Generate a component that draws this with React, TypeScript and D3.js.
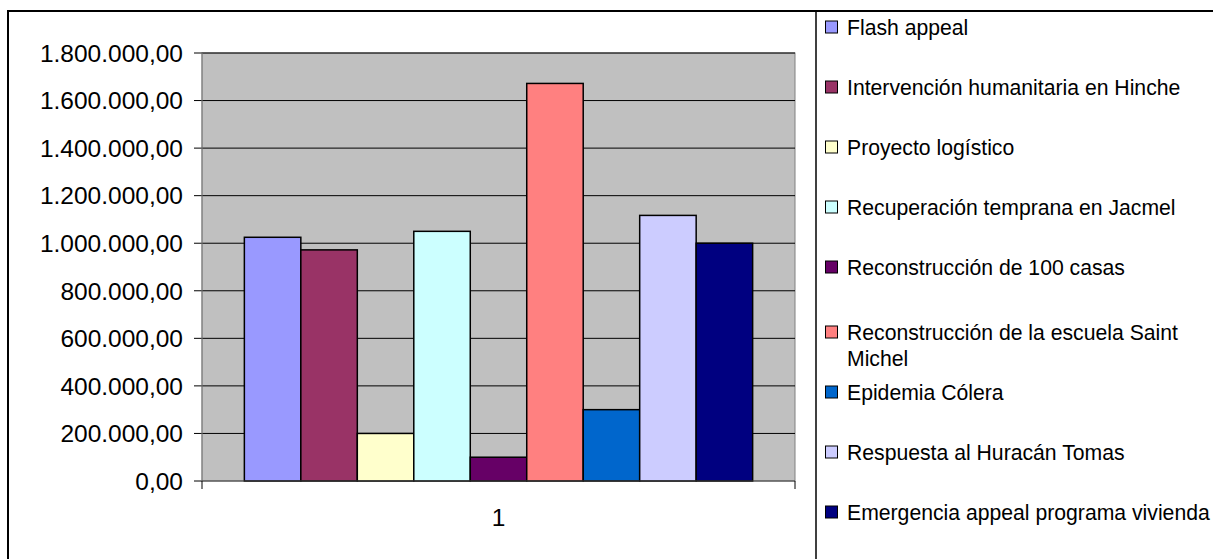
import React from 'react'
import * as d3 from 'd3'

const categories = ['1']
const seriesNames = [
  'Flash appeal',
  'Intervención humanitaria en Hinche',
  'Proyecto logístico',
  'Recuperación temprana en Jacmel',
  'Reconstrucción de 100 casas',
  'Reconstrucción de la escuela Saint Michel',
  'Epidemia Cólera',
  'Respuesta al Huracán Tomas',
  'Emergencia appeal programa vivienda',
]
const seriesValues = [1025000, 972000, 200000, 1050000, 100000, 1672000, 300000, 1117000, 1000000]
const seriesColors = ['#9999FF', '#993366', '#FFFFCC', '#CCFFFF', '#660066', '#FF8080', '#0066CC', '#CCCCFF', '#000080']
const yTicks = [0, 200000, 400000, 600000, 800000, 1000000, 1200000, 1400000, 1600000, 1800000]

// legend labels that wrap onto two lines
const legendLines: Record<string, string[]> = {
  'Reconstrucción de la escuela Saint Michel': ['Reconstrucción de la escuela Saint', 'Michel'],
}

const W = 1213
const H = 559
const plot = { left: 202, right: 795, top: 53, bottom: 481 }
const font = '"Liberation Sans", Arial, sans-serif'

const esLocale = d3.formatLocale({ decimal: ',', thousands: '.', grouping: [3], currency: ['', ''] })
const fmt = esLocale.format(',.2f')

export default function App() {
  const y = d3.scaleLinear().domain([0, 1800000]).range([plot.bottom, plot.top])
  const x0 = d3.scaleBand().domain(categories).range([plot.left, plot.right])
  const gapWidth = 1.5
  const barW = x0.bandwidth() / (seriesNames.length + gapWidth)
  const groupStart = (x0('1') || 0) + (barW * gapWidth) / 2
  const x1 = d3
    .scaleBand()
    .domain(seriesNames)
    .range([groupStart, groupStart + barW * seriesNames.length])

  // legend rows
  let cy = 27
  const legendRows = seriesNames.map((name, i) => {
    const lines = legendLines[name] || [name]
    if (lines.length > 1) cy += 5
    const row = { name, lines, cy, color: seriesColors[i] }
    cy += 60
    return row
  })

  return (
    <svg width={W} height={H} style={{ position: 'absolute', left: 0, top: 0, background: '#fff' }} fontFamily={font}>
      {/* outer frame */}
      <rect x={8} y={11} width={W + 20} height={H + 20} fill="#fff" stroke="#000" strokeWidth={2} />
      <line x1={816} x2={816} y1={11} y2={H + 10} stroke="#000" strokeWidth={1.5} />

      {/* plot area */}
      <rect x={plot.left} y={plot.top} width={plot.right - plot.left} height={plot.bottom - plot.top} fill="#C0C0C0" stroke="#808080" strokeWidth={1} />

      {yTicks.map((t) => (
        <g key={t}>
          {t > 0 && <line x1={plot.left} x2={plot.right} y1={y(t)} y2={y(t)} stroke="#000" strokeWidth={1} />}
          <line x1={plot.left - 8} x2={plot.left} y1={y(t)} y2={y(t)} stroke="#000" strokeWidth={1} />
          <text x={183} y={y(t)} dy="0.36em" textAnchor="end" fontSize={24.5} fill="#000">
            {fmt(t)}
          </text>
        </g>
      ))}

      {/* bars */}
      {seriesNames.map((name, i) => (
        <rect
          key={name}
          x={x1(name)}
          y={y(seriesValues[i])}
          width={x1.bandwidth()}
          height={plot.bottom - y(seriesValues[i])}
          fill={seriesColors[i]}
          stroke="#000"
          strokeWidth={1.5}
        />
      ))}

      {/* axes */}
      <line x1={plot.left} x2={plot.left} y1={plot.top} y2={plot.bottom} stroke="#808080" strokeWidth={1} />
      <line x1={plot.left} x2={plot.right} y1={plot.bottom} y2={plot.bottom} stroke="#404040" strokeWidth={1} />
      <line x1={plot.left} x2={plot.left} y1={plot.bottom} y2={plot.bottom + 8} stroke="#000" strokeWidth={1} />
      <line x1={plot.right} x2={plot.right} y1={plot.bottom} y2={plot.bottom + 8} stroke="#000" strokeWidth={1} />
      {categories.map((c) => (
        <text key={c} x={(x0(c) || 0) + x0.bandwidth() / 2} y={517} dy="0.36em" textAnchor="middle" fontSize={24.5} fill="#000">
          {c}
        </text>
      ))}

      {/* legend */}
      {legendRows.map((r) => (
        <g key={r.name}>
          <rect x={825.5} y={r.cy - 6} width={12} height={12} fill={r.color} stroke="#000" strokeWidth={1} />
          {r.lines.map((ln, k) => (
            <text key={k} x={847} y={r.cy + k * 26} dy="0.36em" fontSize={21.2} fill="#000">
              {ln}
            </text>
          ))}
        </g>
      ))}
    </svg>
  )
}
